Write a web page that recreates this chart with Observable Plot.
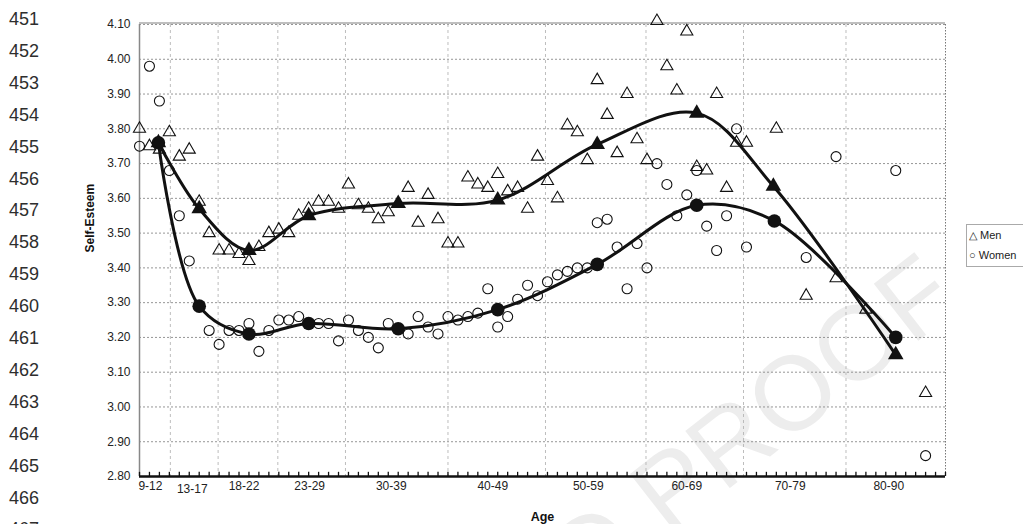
<!DOCTYPE html>
<html><head><meta charset="utf-8">
<script src="https://cdn.jsdelivr.net/npm/d3@7"></script>
<script src="https://cdn.jsdelivr.net/npm/@observablehq/plot@0.6"></script>
<style>
html,body{margin:0;padding:0;background:#fff;}
body{width:1023px;height:524px;overflow:hidden;position:relative;font-family:"Liberation Sans",Arial,sans-serif;}
#wm{position:absolute;left:585px;top:505px;font-size:105px;color:#ededed;white-space:nowrap;transform-origin:0 80%;transform:rotate(-38deg);font-family:"Liberation Sans",Arial,sans-serif;}
#chart{position:absolute;left:0;top:0;}
.ln{position:absolute;left:9px;font-size:18px;line-height:18px;color:#2e2e2e;}
#legend{position:absolute;left:966px;top:224px;width:80px;height:43px;border:1px solid #aaa;font-size:11px;line-height:20px;color:#222;box-sizing:border-box;padding-left:2px;}
</style></head><body>
<div id="wm">D PROOF</div>
<div id="lines"></div>
<div id="chart"></div>
<div id="legend"><div>△ Men</div><div>○ Women</div></div>
<script>
// proof line numbers
const lineNumbers = [451,452,453,454,455,456,457,458,459,460,461,462,463,464,465,466,467];

// y ticks
const yTicks = [2.8,2.9,3.0,3.1,3.2,3.3,3.4,3.5,3.6,3.7,3.8,3.9,4.0,4.1];
// x group labels (age position) and boundaries
const groupLabels = ["9-12","13-17","18-22","23-29","30-39","40-49","50-59","60-69","70-79","80-90"];
const groupLabelAge = [10.1,14.3,19.5,26.1,34.3,44.5,54.1,64.0,74.4,84.3];
const groupBounds = [12.1,16.9,22.9,29.7,40,49.8,59.9,69.7,80];
const ageTicks = d3.range(9, 91);

// individual points: Men
const menAge = [9,10,11,12,13,14,15,16,17,18,19,20,21,22,23,24,25,26,27,28,29,30,31,32,33,34,36,37,38,39,40,41,42,43,44,45,46,47,48,49,50,51,52,53,54,55,56,57,58,59,60,61,62,63,64,65,66,67,68,69,70,73,76,79,82,88];
const menVal = [3.80,3.75,3.74,3.79,3.72,3.74,3.59,3.50,3.45,3.45,3.44,3.42,3.46,3.50,3.51,3.50,3.55,3.57,3.59,3.59,3.57,3.64,3.58,3.57,3.54,3.56,3.63,3.53,3.61,3.54,3.47,3.47,3.66,3.64,3.63,3.67,3.62,3.63,3.57,3.72,3.65,3.60,3.81,3.79,3.71,3.94,3.84,3.73,3.90,3.77,3.71,4.11,3.98,3.91,4.08,3.69,3.68,3.90,3.63,3.76,3.76,3.80,3.32,3.37,3.28,3.04];

// individual points: Women
const womenAge = [9,10,11,12,13,14,16,17,18,19,20,21,22,23,24,25,26,27,28,29,30,31,32,33,34,36,37,38,39,40,41,42,43,44,45,46,47,48,49,50,51,52,53,54,55,56,57,58,59,60,61,62,63,64,65,66,67,68,69,70,76,79,85,88];
const womenVal = [3.75,3.98,3.88,3.68,3.55,3.42,3.22,3.18,3.22,3.22,3.24,3.16,3.22,3.25,3.25,3.26,3.24,3.24,3.24,3.19,3.25,3.22,3.20,3.17,3.24,3.21,3.26,3.23,3.21,3.26,3.25,3.26,3.27,3.34,3.23,3.26,3.31,3.35,3.32,3.36,3.38,3.39,3.40,3.40,3.53,3.54,3.46,3.34,3.47,3.40,3.70,3.64,3.55,3.61,3.68,3.52,3.45,3.55,3.80,3.46,3.43,3.72,3.68,2.86];

// group means (smoothed lines)
const meanAgeMen = [10.9,15,20,26,35,45,55,65,72.7,85];
const meanMen = [3.76,3.57,3.45,3.55,3.585,3.595,3.755,3.845,3.635,3.15];
const meanAgeWomen = [10.9,15,20,26,35,45,55,65,72.8,85];
const meanWomen = [3.76,3.29,3.21,3.24,3.225,3.28,3.41,3.58,3.535,3.20];

// build tables
const men = menAge.map((a,i)=>({age:a, v:menVal[i]}));
const women = womenAge.map((a,i)=>({age:a, v:womenVal[i]}));
const menM = meanAgeMen.map((a,i)=>({age:a, v:meanMen[i]}));
const womenM = meanAgeWomen.map((a,i)=>({age:a, v:meanWomen[i]}));
const labels = groupLabels.map((t,i)=>({t, age:groupLabelAge[i]}));

// line numbers
const ln = document.getElementById("lines");
lineNumbers.forEach((n,i)=>{
  const d = document.createElement("div");
  d.className = "ln"; d.textContent = n;
  d.style.top = (25 + i*31.9 - 15) + "px";
  ln.appendChild(d);
});

const plot = Plot.plot({
  width: 1023, height: 524,
  marginLeft: 139, marginRight: 78, marginTop: 24, marginBottom: 48,
  style: {background: "transparent", fontFamily: "'Liberation Sans', Arial, sans-serif", fontSize: "12px", color: "#222", overflow: "visible"},
  x: {domain: [9, 90], axis: null},
  y: {domain: [2.8, 4.1], ticks: yTicks, tickFormat: d => d.toFixed(2), tickSize: 0, tickPadding: 9, label: null},
  marks: [
    Plot.ruleY(yTicks.slice(1), {stroke: "#8a8a8a", strokeWidth: 0.9, strokeDasharray: "2,2"}),
    Plot.ruleX(groupBounds, {stroke: "#b5b5b5", strokeWidth: 0.9, strokeDasharray: "3,3"}),
    Plot.ruleX([90], {stroke: "#777", strokeWidth: 1, strokeDasharray: "1.5,1.5"}),
    Plot.ruleY([4.1], {stroke: "#aaa", strokeWidth: 1.5, dy: -1.5}),
    Plot.ruleX([9], {stroke: "#888", strokeWidth: 1.5}),
    Plot.ruleX(ageTicks, {x: d => d, y1: 2.8, y2: 2.812, stroke: "#111", strokeWidth: 1.3}),
    Plot.ruleY([2.8], {stroke: "#111", strokeWidth: 2.6}),
    Plot.text(labels, {x: "age", text: "t", frameAnchor: "bottom", lineAnchor: "top", dy: 5, fontSize: 12, filter: d => d.t !== "13-17", fill: "#222"}),
    Plot.text(labels, {x: "age", text: "t", frameAnchor: "bottom", lineAnchor: "top", dy: 8, fontSize: 12, filter: d => d.t === "13-17", fill: "#222"}),
    Plot.text(["Self-Esteem"], {frameAnchor: "left", dx: -49, dy: 2, rotate: -90, fontWeight: "bold", fontSize: 12, fill: "#111"}),
    Plot.text(["Age"], {frameAnchor: "bottom", dy: 44, lineAnchor: "bottom", fontWeight: "bold", fontSize: 12.5, fill: "#111"}),
    Plot.dot(women, {x: "age", y: "v", r: 5, stroke: "#111", strokeWidth: 1.1, fill: "none"}),
    Plot.dot(men, {x: "age", y: "v", symbol: "triangle", r: 4.5, stroke: "#111", strokeWidth: 1.1, fill: "none"}),
    Plot.line(womenM, {x: "age", y: "v", curve: "catmull-rom", stroke: "#111", strokeWidth: 3}),
    Plot.line(menM, {x: "age", y: "v", curve: "catmull-rom", stroke: "#111", strokeWidth: 3}),
    Plot.dot(womenM, {x: "age", y: "v", r: 6.8, fill: "#111"}),
    Plot.dot(menM, {x: "age", y: "v", symbol: "triangle", r: 5.8, fill: "#111"})
  ]
});
document.getElementById("chart").appendChild(plot);
</script>
</body></html>
